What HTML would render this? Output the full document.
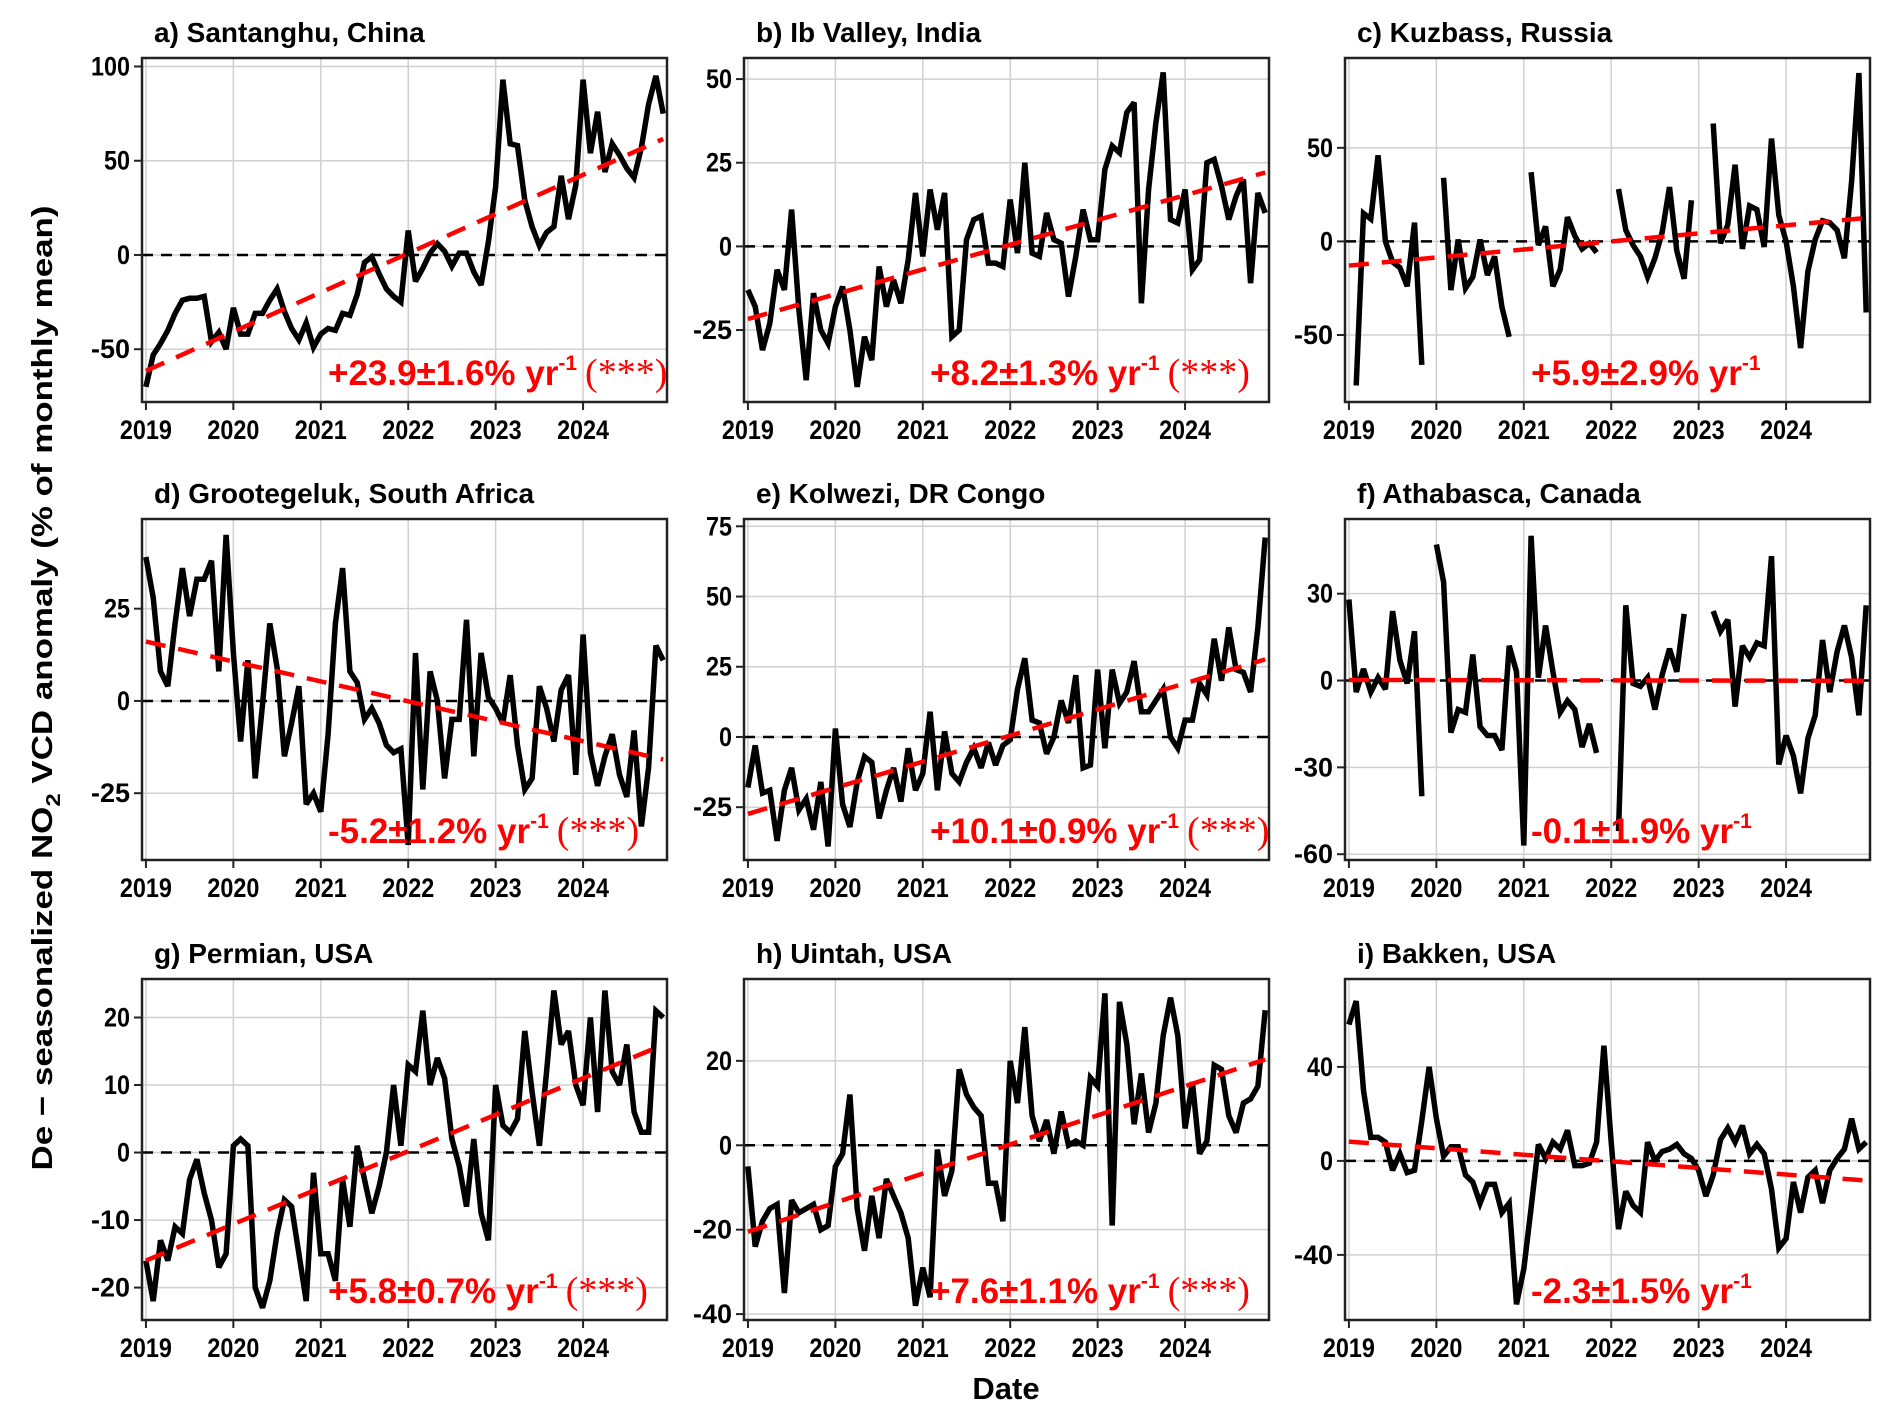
<!DOCTYPE html>
<html><head><meta charset="utf-8">
<style>
html,body{margin:0;padding:0;background:#fff;}
svg text{font-family:"Liberation Sans",Arial,sans-serif;font-weight:bold;}
</style></head>
<body>
<svg id="fig" width="1892" height="1421" viewBox="0 0 1892 1421" xmlns="http://www.w3.org/2000/svg">
<rect width="1892" height="1421" fill="#fff"/>
<text x="0" y="0" transform="translate(52,688) rotate(-90)" text-anchor="middle" font-size="29" textLength="965" lengthAdjust="spacingAndGlyphs">De − seasonalized NO<tspan font-size="20" dy="8">2</tspan><tspan dy="-8"> VCD anomaly (% of monthly mean)</tspan></text>
<text x="1006" y="1399" text-anchor="middle" font-size="31">Date</text>
</svg>
<script>
const panelTitles = ["a) Santanghu, China","b) Ib Valley, India","c) Kuzbass, Russia","d) Grootegeluk, South Africa","e) Kolwezi, DR Congo","f) Athabasca, Canada","g) Permian, USA","h) Uintah, USA","i) Bakken, USA"];
const trendLabels = ["+23.9±1.6% yr","+8.2±1.3% yr","+5.9±2.9% yr","-5.2±1.2% yr","+10.1±0.9% yr","-0.1±1.9% yr","+5.8±0.7% yr","+7.6±1.1% yr","-2.3±1.5% yr"];
const significance = ["(***)","(***)","","(***)","(***)","","(***)","(***)",""];
const yearTicks = [2019,2020,2021,2022,2023,2024];
const yDomains = [[-78,104.5],[-46.5,56.3],[-85.8,98],[-43.1,49.3],[-43.8,77.6],[-62,55.8],[-24.8,25.7],[-41.4,39.4],[-67.7,77.4]];
const yTicks = [[-50,0,50,100],[-25,0,25,50],[-50,0,50],[-25,0,25],[-25,0,25,50,75],[-60,-30,0,30],[-20,-10,0,10,20],[-40,-20,0,20],[-40,0,40]];
const trendStart = [-61.5,-21.7,-12.9,16.1,-27.4,0.2,-16,-20.5,8.2];
const trendSlope = [20.8,7.4,4.3,-5.4,9.3,-0.05,5.4,6.9,-2.8];
const seriesA = [-70,-53,-47,-40,-31,-24,-23,-23,-22,-46,-41,-50, -28,-42,-42,-31,-31,-24,-18,-30,-39,-45,-36,-49, -42,-39,-40,-31,-32,-21,-4,-1,-10,-18,-22,-25, 13,-14,-7,1,6,2,-6,1,1,-9,-16,7, 36,93,59,58,29,15,5,12,15,42,19,37, 93,54,76,44,59,53,46,41,57,80,95,75];
const seriesB = [-13,-18,-31,-23,-7,-13,11,-19,-40,-14,-25,-29, -18,-12,-25,-42,-27,-34,-6,-18,-10,-17,-4,16, -3,17,5,16,-27,-25,2,8,9,-5,-5,-6, 14,-2,25,-2,-3,10,2,1,-15,-3,11,2, 2,23,30,28,40,43,-17,17,37,52,8,7, 17,-7,-4,25,26,18,8,15,20,-11,16,10];
const seriesC = [null,-77,15,12,46,0,-11,-14,-24,10,-66,null, null,34,-26,1,-25,-19,1,-18,-8,-35,-51,null, null,37,-2,8,-24,-15,13,3,-4,-1,-6,null, null,28,6,-2,-8,-19,-9,5,29,-5,-20,22, null,null,63,-1,9,41,-4,19,17,-3,55,14, 0,-24,-57,-16,1,11,10,6,-9,32,90,-38];
const seriesD = [39,28,8,4,21,36,23,33,33,38,8,45, 13,-11,11,-21,-1,21,9,-15,-6,4,-28,-25, -30,-9,21,36,8,5,-5,-2,-6,-12,-14,-13, -39,13,-24,8,0,-21,-5,-5,22,-15,13,1, -2,-6,7,-12,-24,-21,4,-2,-11,3,7,-20, 18,-14,-23,-15,-9,-20,-26,-8,-34,-18,15,11];
const seriesE = [-18,-3,-20,-19,-37,-19,-11,-26,-22,-33,-16,-39, 3,-24,-32,-16,-7,-9,-29,-19,-11,-23,-4,-19, -13,9,-19,2,-13,-16,-9,-4,-11,-2,-10,-3, -1,17,28,6,5,-6,0,13,5,22,-11,-10, 24,-4,24,12,16,27,9,9,13,17,0,-4, 6,6,19,15,35,20,39,24,23,16,39,71];
const seriesF = [28,-4,4,-4,1,-3,24,7,-1,17,-40,null, 47,34,-18,-10,-11,9,-16,-19,-19,-24,12,3, -57,50,1,19,3,-11,-7,-10,-23,-15,-25,null, null,-52,26,-1,-2,1,-10,2,11,3,23,null, null,null,24,17,21,-9,12,8,13,12,43,-29, -19,-26,-39,-20,-12,14,-4,10,19,8,-12,26];
const seriesG = [-16,-22,-13,-16,-11,-12,-4,-1,-6,-10,-17,-15, 1,2,1,-20,-23,-19,-12,-7,-8,-15,-22,-3, -15,-15,-19,-4,-11,1,-4,-9,-5,0,10,1, 13,12,21,10,14,11,2,-2,-8,2,-9,-13, 10,4,3,5,18,9,1,12,24,16,18,10, 7,20,6,24,12,10,16,6,3,3,21,20];
const seriesH = [-5,-24,-18,-15,-14,-35,-13,-16,-15,-14,-20,-19, -5,-2,12,-15,-25,-12,-22,-8,-12,-16,-22,-38, -29,-36,-1,-12,-6,18,12,9,7,-9,-9,-18, 20,10,28,7,1,6,-2,8,0,1,0,16, 14,36,-19,34,24,5,17,3,10,26,35,26, 4,15,-2,1,19,18,7,3,10,11,14,32];
const seriesI = [58,68,30,10,10,8,-4,3,-5,-4,17,40, 18,2,6,6,-6,-9,-18,-10,-10,-22,-18,-61, -46,-20,7,1,8,5,13,-2,-2,-1,8,49, 8,-29,-13,-19,-22,8,0,4,5,7,3,1, -4,-15,-6,9,14,8,15,3,7,3,-12,-37, -33,-9,-22,-7,-4,-18,-4,1,5,18,5,8];
const allSeries = [seriesA,seriesB,seriesC,seriesD,seriesE,seriesF,seriesG,seriesH,seriesI];

const NS = "http://www.w3.org/2000/svg";
const svg = document.getElementById("fig");
const colX = [142,744,1345], rowY = [58,519,979], PW = 525, PH = [344,341,341];
const X0 = 2018.955, X1 = 2024.96;
function mk(tag, attrs, parent){const e=document.createElementNS(NS,tag);for(const k in attrs)e.setAttribute(k,attrs[k]);(parent||svg).appendChild(e);return e;}

for(let p=0;p<9;p++){
  const left=colX[p%3], top=rowY[Math.floor(p/3)], h=PH[Math.floor(p/3)];
  const bottom=top+h, right=left+PW;
  const [y0,y1]=yDomains[p];
  const xs=t=>left+(t-X0)/(X1-X0)*PW;
  const ys=v=>bottom-(v-y0)/(y1-y0)*h;
  const g=mk("g",{});
  
  
  const title=mk("text",{x:left+12,y:top-16,"font-size":28},g);
  title.textContent=panelTitles[p];
  
  
  for(const yr of yearTicks){
    const x=xs(yr);
    mk("line",{x1:x,x2:x,y1:top,y2:bottom,stroke:"#d0d0d0","stroke-width":1.5},g);
    mk("line",{x1:x,x2:x,y1:bottom,y2:bottom+8,stroke:"#222","stroke-width":2},g);
    const t=mk("text",{x:x,y:bottom+37,"text-anchor":"middle","font-size":27,textLength:52,lengthAdjust:"spacingAndGlyphs"},g);
    t.textContent=yr;
    
    
  }
  for(const v of yTicks[p]){
    const y=ys(v);
    mk("line",{x1:left,x2:right,y1:y,y2:y,stroke:"#d0d0d0","stroke-width":1.5},g);
    mk("line",{x1:left-8,x2:left,y1:y,y2:y,stroke:"#222","stroke-width":2},g);
    const s=String(v);
    const t=mk("text",{x:left-12,y:y+9,"text-anchor":"end","font-size":27,textLength:s.length*13,lengthAdjust:"spacingAndGlyphs"},g);
    t.textContent=s;
    
    
  }
  const zl=mk("line",{x1:left,x2:right,y1:ys(0),y2:ys(0),stroke:"#000","stroke-width":2.5,"stroke-dasharray":"11,8"},g);
  
  
  const data=allSeries[p];
  let d="", pen=false;
  data.forEach((v,m)=>{
    if(v===null){pen=false;return;}
    const x=xs(2019+m/12), y=ys(v);
    d+=(pen?"L":"M")+x.toFixed(1)+","+y.toFixed(1);
    pen=true;
  });
  const line=mk("path",{d:d,fill:"none",stroke:"#000","stroke-width":5.5,"stroke-linejoin":"miter","stroke-miterlimit":3},g);
  
  
  const ta=2019, tb=2019+71/12;
  const tr=mk("line",{x1:xs(ta),y1:ys(trendStart[p]),x2:xs(tb),y2:ys(trendStart[p]+trendSlope[p]*(tb-ta)),stroke:"#ff0000","stroke-width":4.5,"stroke-dasharray":"20,13"},g);
  
  
  const fr=mk("rect",{x:left,y:top,width:PW,height:h,fill:"none",stroke:"#222","stroke-width":2.5},g);
  
  
  const lab=mk("text",{x:left+186,y:bottom-17,fill:"#ff0000","font-size":35},g);
  
  
  const t1=mk("tspan",{},lab); t1.textContent=trendLabels[p];
  const t2=mk("tspan",{dy:-15,"font-size":21},lab); t2.textContent="-1";
  if(significance[p]){const t3=mk("tspan",{dy:15,dx:8,"font-weight":"normal","font-family":"Liberation Serif, serif","font-size":38},lab); t3.textContent="(***)";}
}
</script>
</body></html>
